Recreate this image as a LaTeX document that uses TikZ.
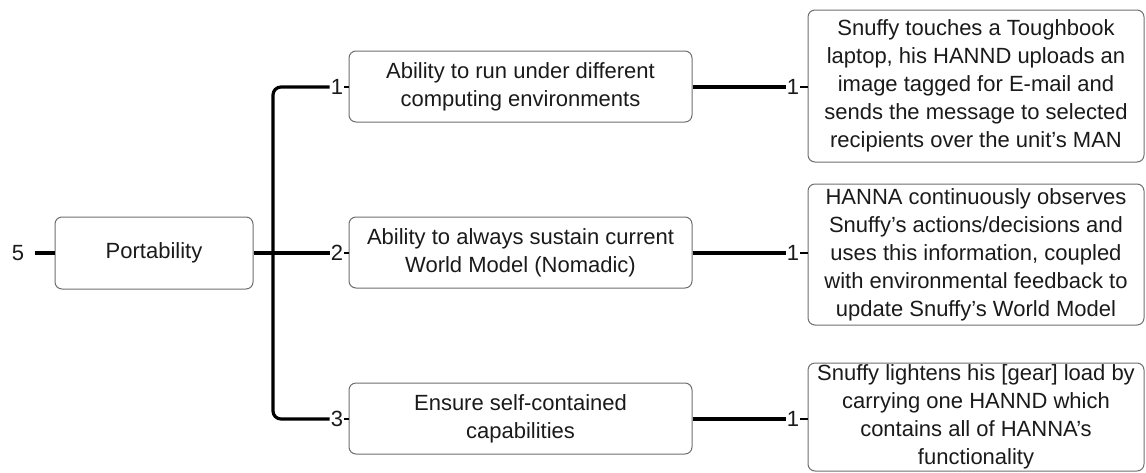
\documentclass[tikz,border=0pt]{standalone}
\usepackage{fontspec}
\setmainfont{Liberation Sans}
\usepackage{xcolor}
\definecolor{edge}{HTML}{6E6E6E}
\definecolor{ink}{HTML}{1A1A1A}
\tikzset{
  box/.style={draw=edge, line width=1pt, rounded corners=7pt, align=center, text=ink, font=\fontsize{22}{28}\selectfont, inner sep=0pt},
  mid/.style={box, minimum width=343pt, minimum height=71pt},
  leaf/.style={box, minimum width=336pt},
  num/.style={text=ink, font=\fontsize{22}{28}\selectfont, inner sep=1pt},
  link/.style={draw=black, line width=3.2pt, rounded corners=8pt},
  tick/.style={draw=black, line width=1.5pt},
}
\begin{document}
\begin{tikzpicture}[x=1pt,y=-1pt]
  \useasboundingbox (0,0) rectangle (1146,472);

  \node[num] (n0) at (18,253) {5};
  \node[box,minimum width=198pt,minimum height=72pt] (port) at (154,253) {Portability};
  \coordinate (trunk) at (273,253);

  \node[mid] (m1) at (520.5,86.5) {Ability to run under different\\computing environments};
  \node[mid] (m2) at (520.5,252.5) {Ability to always sustain current\\World Model (Nomadic)};
  \node[mid] (m3) at (520.5,418.5) {Ensure self-contained\\capabilities};

  \node[num] (n1) at (337,87) {1};
  \node[num] (n2) at (337,253) {2};
  \node[num] (n3) at (337,419) {3};

  \node[leaf,minimum height=152pt] (l1) at (976,86) {Snuffy touches a Toughbook\\laptop, his HANND uploads an\\image tagged for E-mail and\\sends the message to selected\\recipients over the unit’s MAN};
  \node[leaf,minimum height=141pt] (l2) at (976,254.5) {HANNA continuously observes\\Snuffy’s actions/decisions and\\uses this information, coupled\\with environmental feedback to\\update Snuffy’s World Model};
  \node[leaf,minimum height=108pt] (l3) at (976,417) {Snuffy lightens his [gear] load by\\carrying one HANND which\\contains all of HANNA’s\\functionality};

  \node[num] (k1) at (793,87) {1};
  \node[num] (k2) at (793,253) {1};
  \node[num] (k3) at (793,419) {1};

  % root
  \draw[link,shorten <=10pt] (n0.east) -- (n0.east -| port.west);
  \draw[link] (port.east) -- (n2.west);
  \draw[link] (trunk) |- (n1.west);
  \draw[link] (trunk) |- (n3.west);
  \draw[tick] (n1.east) -- (n1.east -| m1.west);
  \draw[tick] (n2.east) -- (n2.east -| m2.west);
  \draw[tick] (n3.east) -- (n3.east -| m3.west);

  % leaves
  \draw[link] (m1.east |- k1) -- (k1.west);
  \draw[link] (m2.east |- k2) -- (k2.west);
  \draw[link] (m3.east |- k3) -- (k3.west);
  \draw[tick] (k1.east) -- (k1.east -| l1.west);
  \draw[tick] (k2.east) -- (k2.east -| l2.west);
  \draw[tick] (k3.east) -- (k3.east -| l3.west);
\end{tikzpicture}
\end{document}
